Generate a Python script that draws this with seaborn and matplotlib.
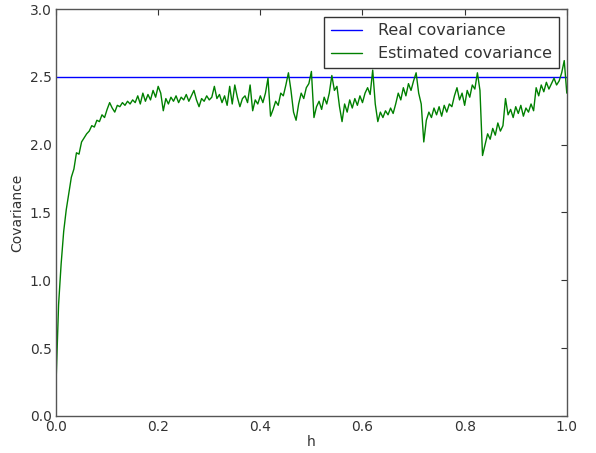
import numpy as np
import pandas as pd
import seaborn as sns
import matplotlib
matplotlib.use("Agg")
import matplotlib.pyplot as plt

# True covariance value (constant reference line)
realCov = 2.5

# Estimated covariance, one value every 0.005 in h
estCov = [
    0.24, 0.82, 1.12, 1.36, 1.52, 1.64, 1.76, 1.82, 1.94, 1.93,
    2.02, 2.05, 2.08, 2.10, 2.14, 2.13, 2.18, 2.17, 2.22, 2.20,
    2.26, 2.31, 2.27, 2.24, 2.29, 2.28, 2.31, 2.29, 2.32, 2.30,
    2.33, 2.31, 2.36, 2.30, 2.38, 2.32, 2.37, 2.33, 2.40, 2.35,
    2.43, 2.38, 2.25, 2.34, 2.30, 2.35, 2.32, 2.36, 2.31, 2.35,
    2.33, 2.37, 2.32, 2.36, 2.40, 2.33, 2.28, 2.34, 2.32, 2.36,
    2.33, 2.35, 2.43, 2.34, 2.37, 2.31, 2.36, 2.29, 2.43, 2.30,
    2.44, 2.35, 2.28, 2.34, 2.36, 2.31, 2.44, 2.25, 2.33, 2.30,
    2.36, 2.31, 2.38, 2.49, 2.21, 2.26, 2.32, 2.29, 2.38, 2.36,
    2.44, 2.53, 2.40, 2.24, 2.18, 2.30, 2.38, 2.34, 2.42, 2.45,
    2.54, 2.20, 2.28, 2.32, 2.26, 2.35, 2.30, 2.38, 2.51, 2.40,
    2.43, 2.28, 2.17, 2.30, 2.24, 2.33, 2.27, 2.34, 2.29, 2.36,
    2.31, 2.38, 2.42, 2.37, 2.55, 2.30, 2.17, 2.24, 2.20, 2.25,
    2.22, 2.27, 2.23, 2.30, 2.38, 2.33, 2.42, 2.36, 2.45, 2.40,
    2.47, 2.53, 2.38, 2.30, 2.02, 2.18, 2.24, 2.20, 2.27, 2.22,
    2.28, 2.21, 2.29, 2.24, 2.30, 2.28, 2.36, 2.42, 2.33, 2.38,
    2.29, 2.40, 2.35, 2.44, 2.41, 2.53, 2.40, 1.92, 2.00, 2.08,
    2.04, 2.12, 2.07, 2.16, 2.10, 2.14, 2.34, 2.22, 2.26, 2.20,
    2.28, 2.23, 2.29, 2.21, 2.27, 2.24, 2.30, 2.25, 2.42, 2.36,
    2.44, 2.39, 2.46, 2.41, 2.45, 2.49, 2.44, 2.47, 2.53, 2.62,
    2.38,
]

h = np.linspace(0.0, 1.0, len(estCov))

df = pd.DataFrame({"h": h, "Estimated covariance": estCov})
df["Real covariance"] = realCov

sns.set_theme(style="white")
plt.rcParams["font.family"] = ["DejaVu Sans"]
plt.rcParams["xtick.direction"] = "in"
plt.rcParams["ytick.direction"] = "in"
plt.rcParams["xtick.top"] = True
plt.rcParams["ytick.right"] = True

fig = plt.figure(figsize=(5.96, 4.53), dpi=100)
ax = fig.add_axes([0.094, 0.082, 0.857, 0.898])

sns.lineplot(data=df, x="h", y="Real covariance", color="#0000ff",
             linewidth=1.0, label="Real covariance", ax=ax)
sns.lineplot(data=df, x="h", y="Estimated covariance", color="#008000",
             linewidth=1.0, label="Estimated covariance", ax=ax)

ax.set_xlim(0.0, 1.0)
ax.set_ylim(0.0, 3.0)
ax.set_xticks([0.0, 0.2, 0.4, 0.6, 0.8, 1.0])
ax.set_yticks([0.0, 0.5, 1.0, 1.5, 2.0, 2.5, 3.0])
ax.tick_params(axis="both", labelsize=10, length=4, width=0.8, color="#333333",
               labelcolor="#333333", pad=3)
ax.set_xlabel("h", fontsize=10, color="#333333", labelpad=1)
ax.set_ylabel("Covariance", fontsize=10, color="#333333")
for sp in ax.spines.values():
    sp.set_color("#555555")
    sp.set_linewidth(1.0)

leg = ax.legend(loc="upper right", fontsize=11.5, frameon=True, fancybox=False,
                edgecolor="#333333", framealpha=1.0, borderpad=0.4,
                handlelength=2.0, handletextpad=1.0, borderaxespad=0.5)
leg.get_frame().set_linewidth(1.0)
for t in leg.get_texts():
    t.set_color("#333333")

fig.savefig("out.png", dpi=100)
